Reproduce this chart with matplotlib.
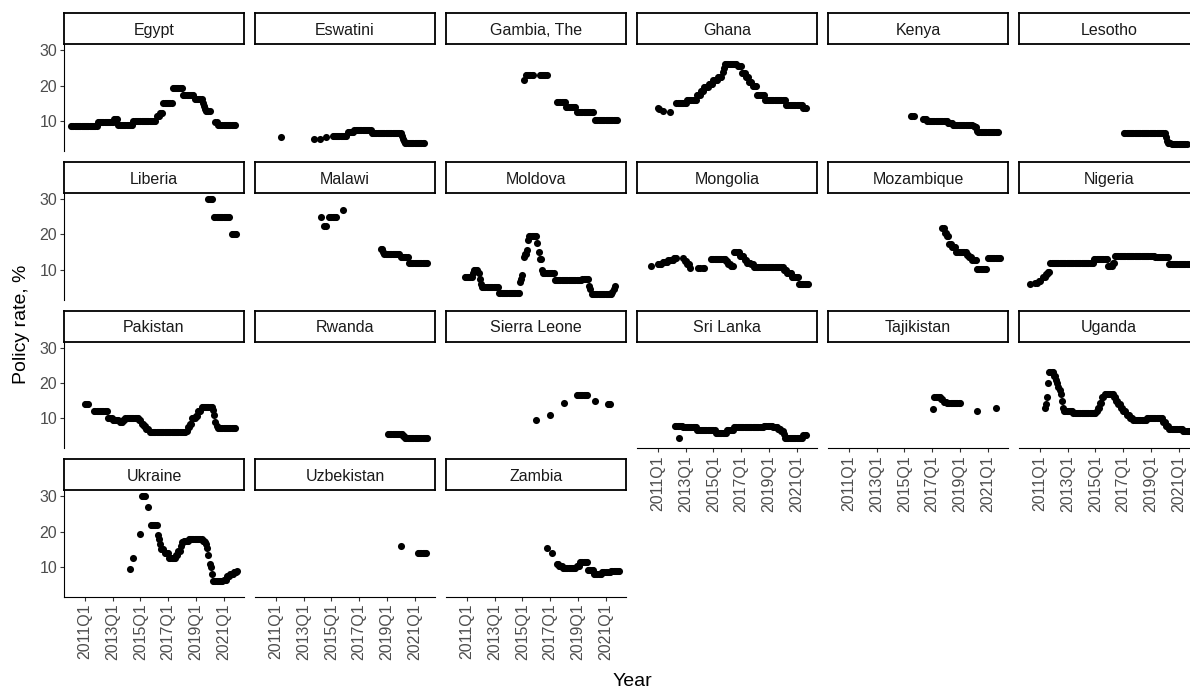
import numpy as np
import matplotlib.pyplot as plt

plt.rcParams['font.family'] = ['Liberation Sans', 'DejaVu Sans']

# Policy rate runs per country: (first month, last month, rate in %),
# month 0 = January 2010, one observation per month inside each run.
egypt = [(0, 22, 8.75), (23, 36, 9.75), (37, 40, 10.5), (41, 53, 9.0), (54, 73, 10.0),
         (74, 76, 11.5), (77, 79, 12.25), (80, 87, 15.25), (88, 96, 19.25), (97, 106, 17.5),
         (107, 113, 16.25), (114, 114, 15.25), (115, 115, 14.25), (116, 116, 13.5),
         (117, 120, 12.75), (125, 126, 9.75), (127, 142, 9.0)]
eswatini = [(16, 16, 5.5), (45, 45, 5.0), (50, 50, 5.0), (55, 55, 5.5), (61, 73, 5.75),
            (74, 79, 7.0), (80, 94, 7.5), (95, 120, 6.75), (121, 121, 5.75), (122, 122, 5.0),
            (123, 123, 4.25), (124, 140, 3.75)]
gambia = [(61, 61, 21.5), (63, 69, 23.0), (75, 81, 23.0), (90, 97, 15.5), (98, 106, 14.0),
          (107, 121, 12.5), (123, 142, 10.25)]
ghana = [(12, 12, 13.75), (13, 13, 13.5), (16, 16, 12.75), (22, 22, 12.5), (28, 36, 15.0),
         (37, 45, 16.0), (46, 48, 17.5), (49, 51, 18.5), (52, 55, 19.5), (56, 59, 20.5),
         (60, 63, 21.5), (64, 67, 22.5), (68, 68, 24.0), (69, 69, 25.0), (70, 80, 26.0),
         (81, 84, 25.5), (85, 87, 23.5), (88, 90, 22.5), (91, 93, 21.0), (94, 97, 20.0),
         (98, 104, 17.5), (105, 122, 16.0), (123, 137, 14.5), (138, 140, 13.75)]
kenya = [(66, 68, 11.5), (76, 79, 10.5), (80, 97, 10.0), (98, 101, 9.5), (102, 119, 9.0),
         (120, 120, 8.5), (121, 122, 8.25), (123, 123, 7.25), (124, 141, 7.0)]
lesotho = [(85, 111, 6.75), (112, 120, 6.5), (121, 121, 5.5), (122, 122, 4.25),
           (123, 125, 3.75), (126, 139, 3.5)]
liberia = [(119, 122, 30.0), (124, 137, 25.0), (139, 143, 20.0)]
malawi = [(51, 51, 25.0), (54, 55, 22.5), (58, 64, 25.0), (70, 70, 27.0), (103, 104, 16.0),
          (105, 105, 15.0), (106, 119, 14.5), (120, 126, 13.5), (127, 143, 12.0)]
moldova = [(10, 16, 8.0), (17, 17, 9.0), (18, 21, 10.0), (22, 22, 9.0), (23, 23, 7.5),
           (24, 24, 6.0), (25, 39, 5.0), (40, 57, 3.5), (58, 58, 6.5), (59, 59, 7.5),
           (60, 60, 8.5), (61, 61, 13.5), (62, 63, 14.5), (64, 64, 15.5), (65, 65, 18.5),
           (66, 72, 19.5), (73, 73, 17.5), (74, 74, 15.0), (75, 76, 13.0), (77, 77, 10.0),
           (78, 87, 9.0), (88, 111, 7.0), (112, 117, 7.5), (118, 118, 5.5), (119, 119, 4.5),
           (120, 137, 3.25), (138, 138, 3.75), (139, 139, 4.5), (140, 140, 5.5)]
mongolia = [(6, 6, 11.0), (12, 15, 11.5), (16, 20, 12.25), (21, 25, 12.75), (26, 28, 13.25),
            (34, 34, 13.25), (35, 36, 12.5), (37, 39, 11.5), (40, 40, 10.5), (47, 48, 10.5),
            (51, 52, 10.5), (58, 70, 13.0), (71, 72, 12.5), (73, 74, 11.5), (75, 77, 11.0),
            (78, 82, 15.0), (83, 86, 14.0), (87, 88, 12.75), (89, 92, 12.0), (93, 94, 11.5),
            (95, 120, 10.75), (121, 123, 10.0), (124, 127, 9.0), (128, 133, 8.0),
            (134, 142, 6.0)]
mozambique = [(93, 94, 21.75), (95, 96, 20.5), (97, 98, 19.5), (99, 100, 17.25),
              (101, 104, 16.5), (105, 113, 15.0), (114, 115, 14.25), (116, 118, 13.5),
              (119, 122, 12.75), (123, 131, 10.25), (132, 143, 13.25)]
nigeria = [(3, 3, 6.0), (8, 9, 6.25), (11, 12, 6.75), (15, 16, 8.0), (17, 18, 8.75),
           (19, 20, 9.5), (21, 58, 12.0), (59, 70, 13.0), (71, 74, 11.0), (75, 76, 12.0),
           (77, 111, 14.0), (112, 123, 13.5), (124, 143, 11.5)]
pakistan = [(12, 15, 14.0), (20, 31, 12.0), (32, 35, 10.0), (36, 41, 9.5), (42, 44, 9.0),
            (45, 46, 9.5), (47, 58, 10.0), (59, 60, 9.5), (61, 62, 8.5), (63, 64, 8.0),
            (65, 67, 7.0), (68, 99, 6.25), (100, 100, 6.5), (101, 102, 7.5), (103, 104, 8.5),
            (105, 106, 10.0), (107, 107, 10.25), (108, 109, 10.75), (110, 112, 12.25),
            (113, 122, 13.25), (123, 123, 12.5), (124, 124, 11.0), (125, 125, 9.0),
            (126, 126, 8.0), (127, 142, 7.25)]
rwanda = [(109, 121, 5.5), (122, 123, 5.0), (124, 143, 4.5)]
sierra_leone = [(72, 72, 9.5), (84, 84, 11.0), (96, 96, 14.5), (107, 116, 16.5),
                (123, 123, 15.0), (134, 136, 14.0)]
sri_lanka = [(27, 33, 7.75), (30, 30, 4.5), (34, 45, 7.5), (46, 61, 6.75), (62, 71, 6.0),
             (72, 77, 6.75), (78, 103, 7.5), (104, 111, 8.0), (112, 115, 7.5),
             (116, 118, 7.0), (119, 120, 6.5), (121, 121, 5.5), (122, 137, 4.5),
             (138, 140, 5.25)]
tajikistan = [(85, 85, 12.75), (86, 91, 16.0), (92, 93, 15.5), (94, 96, 14.75),
              (97, 108, 14.25), (123, 123, 12.0), (139, 139, 13.0)]
uganda = [(16, 16, 13.0), (17, 17, 14.0), (18, 18, 16.0), (19, 19, 20.0), (20, 23, 23.0),
          (24, 25, 22.0), (26, 26, 21.0), (27, 27, 20.0), (28, 28, 19.0), (29, 29, 18.0),
          (30, 30, 17.0), (31, 31, 15.0), (32, 32, 13.0), (33, 40, 12.0), (41, 60, 11.5),
          (61, 61, 12.0), (62, 63, 13.0), (64, 65, 14.5), (66, 67, 16.0), (68, 75, 17.0),
          (76, 77, 16.0), (78, 79, 15.0), (80, 81, 14.0), (82, 83, 13.0), (84, 86, 12.0),
          (87, 89, 11.0), (90, 92, 10.0), (93, 104, 9.5), (105, 118, 10.0), (119, 120, 9.0),
          (121, 123, 8.0), (124, 135, 7.0), (136, 142, 6.5)]
ukraine = [(51, 51, 9.5), (54, 54, 12.5), (60, 60, 19.5), (61, 64, 30.0), (67, 67, 27.0),
           (69, 74, 22.0), (75, 75, 19.0), (76, 76, 18.0), (77, 77, 16.5), (78, 80, 15.0),
           (81, 84, 14.0), (85, 90, 12.5), (91, 92, 13.5), (93, 94, 14.5), (95, 95, 16.0),
           (96, 97, 17.0), (98, 101, 17.5), (102, 113, 18.0), (114, 115, 17.5),
           (116, 116, 17.0), (117, 117, 16.5), (118, 118, 15.5), (119, 119, 13.5),
           (120, 120, 11.0), (121, 121, 10.0), (122, 122, 8.0), (123, 131, 6.0),
           (132, 134, 6.5), (135, 137, 7.5), (138, 140, 8.0), (141, 143, 8.5), (144, 144, 9.0)]
uzbekistan = [(120, 120, 16.0), (135, 142, 14.0)]
zambia = [(81, 81, 15.5), (86, 86, 14.0), (90, 91, 11.0), (92, 94, 10.25), (95, 106, 9.75),
          (107, 109, 10.25), (110, 116, 11.5), (117, 121, 9.25), (122, 128, 8.0),
          (129, 136, 8.5), (137, 144, 9.0)]

countries = ['Egypt', 'Eswatini', 'Gambia, The', 'Ghana', 'Kenya', 'Lesotho',
             'Liberia', 'Malawi', 'Moldova', 'Mongolia', 'Mozambique', 'Nigeria',
             'Pakistan', 'Rwanda', 'Sierra Leone', 'Sri Lanka', 'Tajikistan', 'Uganda',
             'Ukraine', 'Uzbekistan', 'Zambia']
series = [egypt, eswatini, gambia, ghana, kenya, lesotho,
          liberia, malawi, moldova, mongolia, mozambique, nigeria,
          pakistan, rwanda, sierra_leone, sri_lanka, tajikistan, uganda,
          ukraine, uzbekistan, zambia]

tick_years = [2011, 2013, 2015, 2017, 2019, 2021]
tick_labels = [f'{y}Q1' for y in tick_years]
rate_ticks = [10, 20, 30]

W, H = 1190, 690
fig = plt.figure(figsize=(W / 100, H / 100), dpi=100)


def px_box(left, top, width, height):
    return [left / W, 1 - (top + height) / H, width / W, height / H]


ncol = 6
n = len(countries)
for i, (name, runs) in enumerate(zip(countries, series)):
    row, col = divmod(i, ncol)
    left = 64 + 191 * col
    top = 13.3 + 148.7 * row

    ax = fig.add_axes(px_box(left, top + 31, 180, 106.5))
    months = np.concatenate([np.arange(a, b + 1) for a, b, v in runs])
    rates = np.concatenate([np.full(b - a + 1, v) for a, b, v in runs])
    ax.scatter(2010 + months / 12, rates, s=26, color='black', linewidths=0)

    ax.set_xlim(2009.484, 2022.48)
    ax.set_ylim(1.6, 31.7)
    ax.set_xticks(tick_years)
    ax.set_yticks(rate_ticks)
    for side in ['top', 'right']:
        ax.spines[side].set_visible(False)

    bottom_panel = i + ncol >= n
    first_col = col == 0
    ax.spines['left'].set_visible(first_col)
    ax.spines['bottom'].set_visible(bottom_panel)
    for side in ['left', 'bottom']:
        ax.spines[side].set_color('black')
        ax.spines[side].set_linewidth(0.8)

    ax.tick_params(axis='x', direction='out', length=3, width=0.8, color='#333333',
                   pad=2, labelsize=11.5, labelcolor='#4D4D4D', labelrotation=90,
                   bottom=bottom_panel, labelbottom=bottom_panel)
    ax.tick_params(axis='y', direction='out', length=3, width=0.8, color='#333333',
                   pad=2, labelsize=11.5, labelcolor='#4D4D4D',
                   left=first_col, labelleft=first_col)
    if bottom_panel:
        ax.set_xticklabels(tick_labels)

    # facet strip with the country name
    sax = fig.add_axes(px_box(left, top, 180, 31))
    sax.set_xticks([])
    sax.set_yticks([])
    sax.set_facecolor('white')
    for sp in sax.spines.values():
        sp.set_color('black')
        sp.set_linewidth(1.3)
    sax.text(0.5, 0.45, name, transform=sax.transAxes, ha='center', va='center',
             fontsize=11.5, color='#1A1A1A')

fig.text(22 / W, 1 - 324 / H, 'Policy rate, %', rotation=90, ha='center', va='center',
         fontsize=14)
fig.text(632 / W, 1 - 681 / H, 'Year', ha='center', va='center', fontsize=14)

fig.savefig('out.png', dpi=100, facecolor='white')
